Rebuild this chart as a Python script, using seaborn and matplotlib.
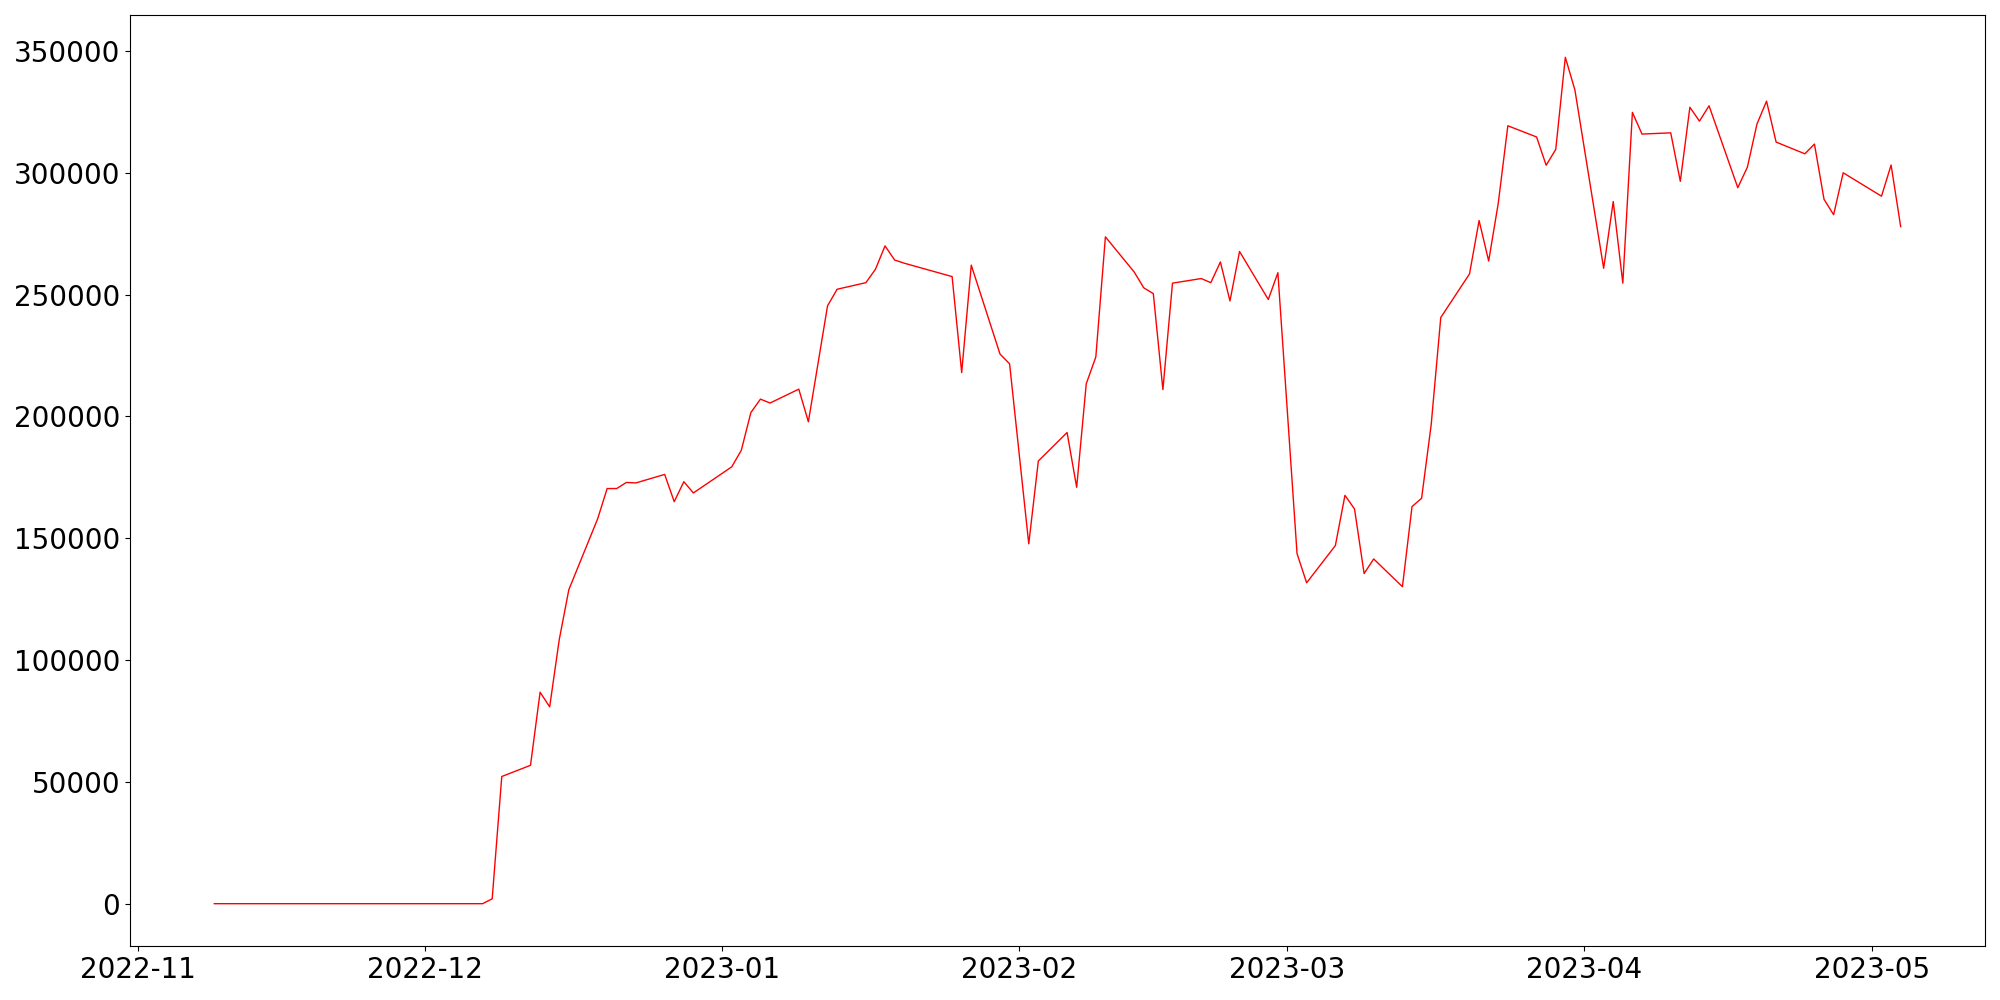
import pandas as pd
import seaborn as sns
import matplotlib.pyplot as plt

# trading days (flat zero stretch kept only by its ends)
dates = [
    "2022-11-09", "2022-12-07", "2022-12-08", "2022-12-09", "2022-12-12",
    "2022-12-13", "2022-12-14", "2022-12-15", "2022-12-16", "2022-12-19",
    "2022-12-20", "2022-12-21", "2022-12-22", "2022-12-23", "2022-12-26",
    "2022-12-27", "2022-12-28", "2022-12-29", "2023-01-02", "2023-01-03",
    "2023-01-04", "2023-01-05", "2023-01-06", "2023-01-09", "2023-01-10",
    "2023-01-12", "2023-01-13", "2023-01-16", "2023-01-17", "2023-01-18",
    "2023-01-19", "2023-01-20", "2023-01-25", "2023-01-26", "2023-01-27",
    "2023-01-30", "2023-01-31", "2023-02-02", "2023-02-03", "2023-02-06",
    "2023-02-07", "2023-02-08", "2023-02-09", "2023-02-10", "2023-02-13",
    "2023-02-14", "2023-02-15", "2023-02-16", "2023-02-17", "2023-02-20",
    "2023-02-21", "2023-02-22", "2023-02-23", "2023-02-24", "2023-02-27",
    "2023-02-28", "2023-03-02", "2023-03-03", "2023-03-06", "2023-03-07",
    "2023-03-08", "2023-03-09", "2023-03-10", "2023-03-13", "2023-03-14",
    "2023-03-15", "2023-03-16", "2023-03-17", "2023-03-20", "2023-03-21",
    "2023-03-22", "2023-03-23", "2023-03-24", "2023-03-27", "2023-03-28",
    "2023-03-29", "2023-03-30", "2023-03-31", "2023-04-03", "2023-04-04",
    "2023-04-05", "2023-04-06", "2023-04-07", "2023-04-10", "2023-04-11",
    "2023-04-12", "2023-04-13", "2023-04-14", "2023-04-17", "2023-04-18",
    "2023-04-19", "2023-04-20", "2023-04-21", "2023-04-24", "2023-04-25",
    "2023-04-26", "2023-04-27", "2023-04-28", "2023-05-02", "2023-05-03",
    "2023-05-04",
]
values = [
    0, 0, 2000, 52200, 56800,
    86800, 80800, 108400, 128900, 157900,
    170400, 170400, 172900, 172700, 176200,
    165000, 173200, 168600, 179300, 186100,
    201600, 207100, 205500, 211200, 197800,
    245400, 252200, 254900, 260400, 270000,
    264200, 262900, 257400, 218000, 262100,
    225600, 221600, 147700, 181700, 193400,
    170900, 213400, 224400, 273700, 259300,
    252800, 250400, 211000, 254700, 256600,
    254900, 263400, 247400, 267700, 248000,
    259000, 143700, 131700, 147000, 167600,
    162000, 135500, 141500, 130100, 163000,
    166400, 196600, 240600, 258500, 280400,
    263800, 287500, 319300, 314700, 303100,
    309600, 347400, 334000, 260800, 288200,
    254700, 324800, 315900, 316400, 296500,
    326900, 321200, 327500, 293900, 302300,
    320000, 329400, 312600, 307800, 311800,
    289100, 282800, 300000, 290400, 303200,
    277900,
]

df = pd.DataFrame({"date": pd.to_datetime(dates), "value": values})

fig, ax = plt.subplots(figsize=(20, 10), dpi=100)
sns.lineplot(data=df, x="date", y="value", color="red", linewidth=1, ax=ax)
ax.set_xlabel("")
ax.set_ylabel("")
ax.tick_params(labelsize=20)
fig.subplots_adjust(left=0.065, right=0.9925, top=0.985, bottom=0.054)
plt.savefig("out.png")
